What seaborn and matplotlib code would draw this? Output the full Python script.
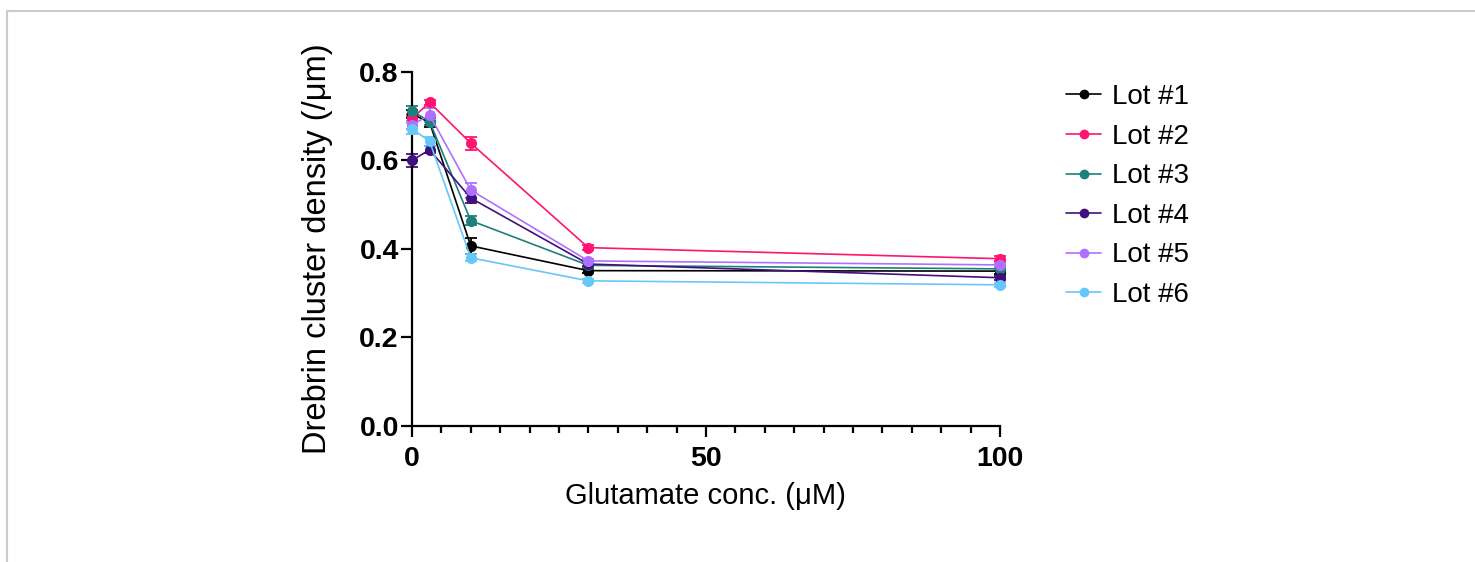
import numpy as np
import pandas as pd
import matplotlib
matplotlib.use('Agg')
import matplotlib.pyplot as plt
from matplotlib.lines import Line2D
from matplotlib.ticker import MultipleLocator
import seaborn as sns

# Veriler (grafikten okunan ortalama ve hata degerleri)
conc = [0, 3, 10, 30, 100]
lots = ['Lot #1', 'Lot #2', 'Lot #3', 'Lot #4', 'Lot #5', 'Lot #6']
lot1 = [0.705, 0.686, 0.407, 0.351, 0.350]
lot2 = [0.695, 0.731, 0.639, 0.403, 0.378]
lot3 = [0.712, 0.688, 0.464, 0.363, 0.355]
lot4 = [0.600, 0.624, 0.515, 0.366, 0.335]
lot5 = [0.680, 0.703, 0.533, 0.373, 0.364]
lot6 = [0.672, 0.643, 0.380, 0.328, 0.319]
err1 = [0.010, 0.010, 0.018, 0.006, 0.006]
err2 = [0.010, 0.005, 0.015, 0.005, 0.006]
err3 = [0.012, 0.008, 0.010, 0.005, 0.005]
err4 = [0.015, 0.008, 0.012, 0.005, 0.005]
err5 = [0.010, 0.015, 0.017, 0.005, 0.005]
err6 = [0.012, 0.010, 0.008, 0.004, 0.004]
colors = ['#000000', '#FF1470', '#1E807A', '#40107E', '#B070FF', '#66C8F8']

means = [lot1, lot2, lot3, lot4, lot5, lot6]
errs = [err1, err2, err3, err4, err5, err6]

rows = []
for name, m in zip(lots, means):
    for c, v in zip(conc, m):
        rows.append({'conc': c, 'density': v, 'lot': name})
df = pd.DataFrame(rows)

sns.set_style('ticks')
plt.rcParams['font.family'] = ['Liberation Sans', 'DejaVu Sans']
plt.rcParams['text.color'] = 'black'
plt.rcParams['axes.labelcolor'] = 'black'
plt.rcParams['xtick.color'] = 'black'
plt.rcParams['ytick.color'] = 'black'

fig = plt.figure(figsize=(14.75, 5.62), dpi=100)
ax = fig.add_axes([0.2793, 0.242, 0.3986, 0.630])

# Hata cubuklari
for name, m, e, col in zip(lots, means, errs, colors):
    ax.errorbar(conc, m, yerr=e, fmt='none', ecolor=col, elinewidth=1.3,
                capsize=4, capthick=1.3, clip_on=False, zorder=2)

sns.lineplot(data=df, x='conc', y='density', hue='lot', palette=colors,
             marker='o', markersize=8, markeredgewidth=0, linewidth=1.2,
             ax=ax, clip_on=False, zorder=3)

ax.set_xlim(0, 100)
ax.set_ylim(0, 0.8)
ax.xaxis.set_major_locator(MultipleLocator(50))
ax.xaxis.set_minor_locator(MultipleLocator(5))
ax.yaxis.set_major_locator(MultipleLocator(0.2))
ax.yaxis.set_major_formatter(matplotlib.ticker.FormatStrFormatter('%.1f'))

for s in ['top', 'right']:
    ax.spines[s].set_visible(False)
for s in ['left', 'bottom']:
    ax.spines[s].set_linewidth(1.6)
    ax.spines[s].set_color('black')
ax.tick_params(which='major', length=8, width=1.6, color='black', labelcolor='black', labelsize=20.5)
ax.tick_params(axis='y', which='major', pad=1.5)
ax.tick_params(axis='x', which='major', pad=6.5)
ax.tick_params(which='minor', length=5, width=1.6, color='black')
for lab in ax.get_xticklabels() + ax.get_yticklabels():
    lab.set_fontweight('bold')

ax.set_xlabel('Glutamate conc. (μM)', fontsize=21, labelpad=7, color='black')
ax.set_ylabel('Drebrin cluster density (/μm)', fontsize=23.5, labelpad=19, color='black')

leg = ax.legend(loc='upper left', bbox_to_anchor=(0.706, 0.895),
                bbox_transform=fig.transFigure, frameon=False, fontsize=20,
                handlelength=1.25, handletextpad=0.4, labelspacing=0.49)
for t in leg.get_texts():
    t.set_color('black')
for h in leg.legend_handles:
    h.set_markersize(7)
    h.set_linewidth(1.2)

# Ekran goruntusu cercevesi
fig.add_artist(Line2D([7 / 1475, 1], [1 - 11 / 562, 1 - 11 / 562], color='#cccccc', lw=1.5))
fig.add_artist(Line2D([7 / 1475, 7 / 1475], [0, 1 - 11 / 562], color='#cccccc', lw=1.5))

fig.savefig('out.png', dpi=100)
